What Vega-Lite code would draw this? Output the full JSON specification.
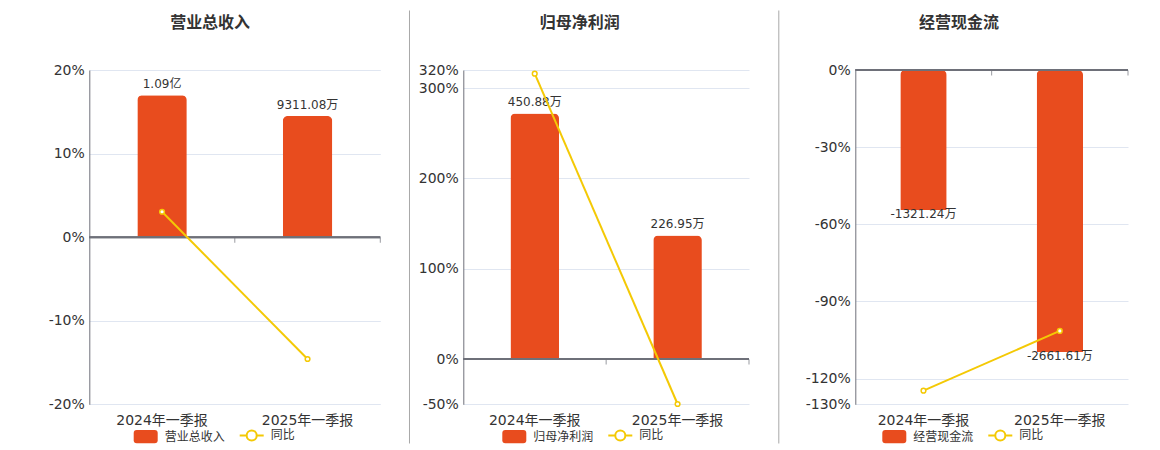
{
  "$schema": "https://vega.github.io/schema/vega-lite/v6.json",
  "padding": {"left": 39.3, "top": 15, "right": 0, "bottom": 0},
  "spacing": 8,
  "datasets": {
    "revenue": [
      {"报告期": "2024年一季报", "金额": 10900, "标签": "1.09亿", "同比": 3.04},
      {"报告期": "2025年一季报", "金额": 9311.08, "标签": "9311.08万", "同比": -14.58}
    ],
    "profit": [
      {"报告期": "2024年一季报", "金额": 450.88, "标签": "450.88万", "同比": 315.9},
      {"报告期": "2025年一季报", "金额": 226.95, "标签": "226.95万", "同比": -49.67}
    ],
    "cash": [
      {"报告期": "2024年一季报", "金额": -1321.24, "标签": "-1321.24万", "同比": -124.7},
      {"报告期": "2025年一季报", "金额": -2661.61, "标签": "-2661.61万", "同比": -101.45}
    ],
    "sep": [{"v": 0}]
  },
  "hconcat": [
    {
      "width": 291,
      "height": 334.3,
      "title": {"text": "营业总收入", "dx": -24.7},
      "data": {"name": "revenue"},
      "resolve": {"scale": {"y": "independent"}},
      "layer": [
        {
          "encoding": {
            "x": {"field": "报告期", "type": "nominal", "sort": null,
              "scale": {"paddingInner": 0, "paddingOuter": 0},
              "axis": {"domain": false, "ticks": false, "grid": false, "labelPadding": 9.5, "labelAngle": 0, "title": null, "labelFontSize": 14, "labelColor": "#333"}},
            "y": {"field": "金额", "type": "quantitative", "scale": {"domain": [-12850, 12850], "nice": false, "zero": false}, "axis": null}
          },
          "layer": [
            {
              "mark": {"type": "bar", "width": {"band": 0.34}, "cornerRadiusEnd": 5},
              "encoding": {
                "color": {"datum": "营业总收入", "type": "nominal",
                  "scale": {"domain": ["营业总收入", "同比"], "range": ["#E84C1E", "#F4C905"]},
                  "legend": {"orient": "none", "legendX": 43.4, "legendY": 352, "direction": "horizontal", "title": null,
                    "symbolSize": 576, "labelFontSize": 12, "labelColor": "#333", "labelOffset": 6, "columnPadding": 10,
                    "encode": {"symbols": {"update": {
                      "shape": [{"test": "datum.value === '同比'", "value": "M-1,0L-0.42,0M0.42,0L1,0M-0.42,0A0.42,0.42 0 1,1 0.42,0A0.42,0.42 0 1,1 -0.42,0Z"}, {"value": "M-0.75,-0.55L0.75,-0.55Q1,-0.55 1,-0.3L1,0.3Q1,0.55 0.75,0.55L-0.75,0.55Q-1,0.55 -1,0.3L-1,-0.3Q-1,-0.55 -0.75,-0.55Z"}],
                      "fillOpacity": [{"test": "datum.value === '同比'", "value": 0}, {"value": 1}],
                      "strokeOpacity": [{"test": "datum.value === '同比'", "value": 1}, {"value": 0}],
                      "strokeWidth": {"value": 2},
                      "opacity": {"value": 1}
                    }}}
                  }
                }
              }
            },
            {
              "mark": {"type": "text", "baseline": "alphabetic", "dy": -7, "fontSize": 12, "color": "#333"},
              "encoding": {"text": {"field": "标签"}}
            }
          ]
        },
        {
          "encoding": {
            "y": {"field": "同比", "type": "quantitative", "scale": {"domain": [-20, 20], "nice": false, "zero": false},
              "axis": {"orient": "left", "grid": true, "values": [-20, -10, 0, 10, 20], "labelExpr": "datum.value + '%'", "minExtent": 50}}
          },
          "layer": [
            {"mark": {"type": "rule", "color": "#6E7079", "strokeWidth": 2}, "encoding": {"y": {"datum": 0, "type": "quantitative"}}},
            {"mark": {"type": "tick", "orient": "vertical", "size": 5, "thickness": 1, "color": "#6E7079", "yOffset": 3},
              "encoding": {"x": {"field": "报告期", "type": "nominal", "sort": null, "bandPosition": 1}, "y": {"datum": 0, "type": "quantitative"}}},
            {"mark": {"type": "line", "strokeWidth": 2, "point": {"filled": false, "fill": "white", "size": 22, "strokeWidth": 1.5}},
              "encoding": {"x": {"field": "报告期", "type": "nominal", "sort": null}, "color": {"datum": "同比", "type": "nominal"}}}
          ]
        }
      ]
    },
    {
      "width": 19.7,
      "height": 373,
      "data": {"name": "sep"},
      "mark": {"type": "point", "opacity": 0},
      "encoding": {"y": {"field": "v", "type": "quantitative", "scale": {"range": [373, -60]}, "axis": {"orient": "right", "labels": false, "ticks": false, "grid": false, "title": null, "domainColor": "#A8A8A8"}}}
    },
    {
      "width": 285.7,
      "height": 334.3,
      "title": {"text": "归母净利润", "dx": -26.4},
      "data": {"name": "profit"},
      "resolve": {"scale": {"y": "independent"}},
      "layer": [
        {
          "encoding": {
            "x": {"field": "报告期", "type": "nominal", "sort": null,
              "scale": {"paddingInner": 0, "paddingOuter": 0},
              "axis": {"domain": false, "ticks": false, "grid": false, "labelPadding": 9.5, "labelAngle": 0, "title": null, "labelFontSize": 14, "labelColor": "#333"}},
            "y": {"field": "金额", "type": "quantitative", "scale": {"domain": [-82.9, 530.5], "nice": false, "zero": false}, "axis": null}
          },
          "layer": [
            {
              "mark": {"type": "bar", "width": {"band": 0.34}, "cornerRadiusEnd": 5},
              "encoding": {
                "color": {"datum": "归母净利润", "type": "nominal",
                  "scale": {"domain": ["归母净利润", "同比"], "range": ["#E84C1E", "#F4C905"]},
                  "legend": {"orient": "none", "legendX": 38, "legendY": 352, "direction": "horizontal", "title": null,
                    "symbolSize": 576, "labelFontSize": 12, "labelColor": "#333", "labelOffset": 6, "columnPadding": 10,
                    "encode": {"symbols": {"update": {
                      "shape": [{"test": "datum.value === '同比'", "value": "M-1,0L-0.42,0M0.42,0L1,0M-0.42,0A0.42,0.42 0 1,1 0.42,0A0.42,0.42 0 1,1 -0.42,0Z"}, {"value": "M-0.75,-0.55L0.75,-0.55Q1,-0.55 1,-0.3L1,0.3Q1,0.55 0.75,0.55L-0.75,0.55Q-1,0.55 -1,0.3L-1,-0.3Q-1,-0.55 -0.75,-0.55Z"}],
                      "fillOpacity": [{"test": "datum.value === '同比'", "value": 0}, {"value": 1}],
                      "strokeOpacity": [{"test": "datum.value === '同比'", "value": 1}, {"value": 0}],
                      "strokeWidth": {"value": 2},
                      "opacity": {"value": 1}
                    }}}
                  }
                }
              }
            },
            {
              "mark": {"type": "text", "baseline": "alphabetic", "dy": -7, "fontSize": 12, "color": "#333"},
              "encoding": {"text": {"field": "标签"}}
            }
          ]
        },
        {
          "encoding": {
            "y": {"field": "同比", "type": "quantitative", "scale": {"domain": [-50, 320], "nice": false, "zero": false},
              "axis": {"orient": "left", "grid": true, "values": [-50, 0, 100, 200, 300, 320], "labelExpr": "datum.value + '%'", "minExtent": 45.3}}
          },
          "layer": [
            {"mark": {"type": "rule", "color": "#6E7079", "strokeWidth": 2}, "encoding": {"y": {"datum": 0, "type": "quantitative"}}},
            {"mark": {"type": "tick", "orient": "vertical", "size": 5, "thickness": 1, "color": "#6E7079", "yOffset": 3},
              "encoding": {"x": {"field": "报告期", "type": "nominal", "sort": null, "bandPosition": 1}, "y": {"datum": 0, "type": "quantitative"}}},
            {"mark": {"type": "line", "strokeWidth": 2, "point": {"filled": false, "fill": "white", "size": 22, "strokeWidth": 1.5}},
              "encoding": {"x": {"field": "报告期", "type": "nominal", "sort": null}, "color": {"datum": "同比", "type": "nominal"}}}
          ]
        }
      ]
    },
    {
      "width": 20,
      "height": 373,
      "data": {"name": "sep"},
      "mark": {"type": "point", "opacity": 0},
      "encoding": {"y": {"field": "v", "type": "quantitative", "scale": {"range": [373, -60]}, "axis": {"orient": "right", "labels": false, "ticks": false, "grid": false, "title": null, "domainColor": "#A8A8A8"}}}
    },
    {
      "width": 272.7,
      "height": 334.3,
      "title": {"text": "经营现金流", "dx": -32.7},
      "data": {"name": "cash"},
      "resolve": {"scale": {"y": "independent"}},
      "layer": [
        {
          "encoding": {
            "x": {"field": "报告期", "type": "nominal", "sort": null,
              "scale": {"paddingInner": 0, "paddingOuter": 0},
              "axis": {"domain": false, "ticks": false, "grid": false, "labelPadding": 9.5, "labelAngle": 0, "title": null, "labelFontSize": 14, "labelColor": "#333"}},
            "y": {"field": "金额", "type": "quantitative", "scale": {"domain": [-3155, 0], "nice": false, "zero": false}, "axis": null}
          },
          "layer": [
            {
              "mark": {"type": "bar", "width": {"band": 0.34}, "cornerRadiusEnd": 5},
              "encoding": {
                "color": {"datum": "经营现金流", "type": "nominal",
                  "scale": {"domain": ["经营现金流", "同比"], "range": ["#E84C1E", "#F4C905"]},
                  "legend": {"orient": "none", "legendX": 26, "legendY": 352, "direction": "horizontal", "title": null,
                    "symbolSize": 576, "labelFontSize": 12, "labelColor": "#333", "labelOffset": 6, "columnPadding": 10,
                    "encode": {"symbols": {"update": {
                      "shape": [{"test": "datum.value === '同比'", "value": "M-1,0L-0.42,0M0.42,0L1,0M-0.42,0A0.42,0.42 0 1,1 0.42,0A0.42,0.42 0 1,1 -0.42,0Z"}, {"value": "M-0.75,-0.55L0.75,-0.55Q1,-0.55 1,-0.3L1,0.3Q1,0.55 0.75,0.55L-0.75,0.55Q-1,0.55 -1,0.3L-1,-0.3Q-1,-0.55 -0.75,-0.55Z"}],
                      "fillOpacity": [{"test": "datum.value === '同比'", "value": 0}, {"value": 1}],
                      "strokeOpacity": [{"test": "datum.value === '同比'", "value": 1}, {"value": 0}],
                      "strokeWidth": {"value": 2},
                      "opacity": {"value": 1}
                    }}}
                  }
                }
              }
            },
            {
              "mark": {"type": "text", "baseline": "alphabetic", "dy": 8, "fontSize": 12, "color": "#333"},
              "encoding": {"text": {"field": "标签"}}
            }
          ]
        },
        {
          "encoding": {
            "y": {"field": "同比", "type": "quantitative", "scale": {"domain": [-130, 0], "nice": false, "zero": false},
              "axis": {"orient": "left", "grid": true, "values": [-130, -120, -90, -60, -30, 0], "labelExpr": "datum.value + '%'", "minExtent": 68.3}}
          },
          "layer": [
            {"mark": {"type": "rule", "color": "#6E7079", "strokeWidth": 2}, "encoding": {"y": {"datum": 0, "type": "quantitative"}}},
            {"mark": {"type": "tick", "orient": "vertical", "size": 5, "thickness": 1, "color": "#6E7079", "yOffset": 3},
              "encoding": {"x": {"field": "报告期", "type": "nominal", "sort": null, "bandPosition": 1}, "y": {"datum": 0, "type": "quantitative"}}},
            {"mark": {"type": "line", "strokeWidth": 2, "point": {"filled": false, "fill": "white", "size": 22, "strokeWidth": 1.5}},
              "encoding": {"x": {"field": "报告期", "type": "nominal", "sort": null}, "color": {"datum": "同比", "type": "nominal"}}}
          ]
        }
      ]
    }
  ],
  "resolve": {"scale": {"color": "independent"}},
  "config": {
    "font": "DejaVu Sans, Noto Sans CJK SC",
    "view": {"stroke": null},
    "title": {"fontSize": 16, "fontWeight": "bold", "color": "#333", "anchor": "middle", "frame": "group", "baseline": "alphabetic", "offset": 32},
    "axisY": {"ticks": false, "labelPadding": 5, "labelFontSize": 14, "labelColor": "#333", "domainColor": "#6E7079", "gridColor": "#E0E6F1", "title": null}
  }
}
